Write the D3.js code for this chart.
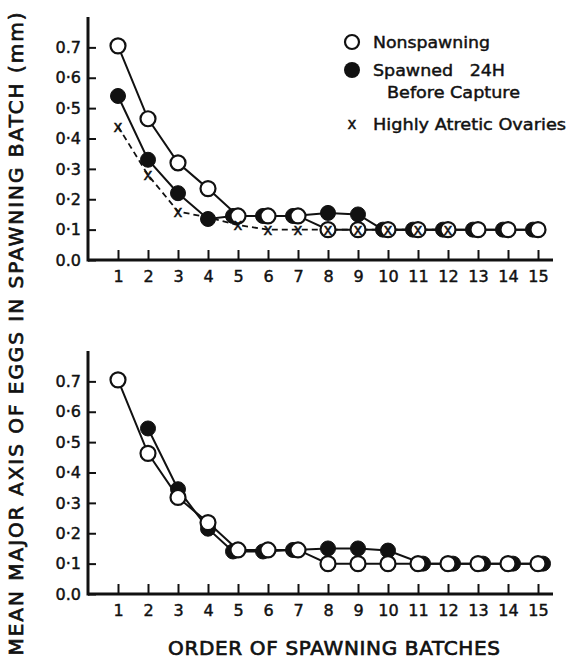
<!DOCTYPE html>
<html>
<head>
<meta charset="utf-8">
<script src="https://cdn.jsdelivr.net/npm/d3@7"></script>
<style>
  body { margin: 0; background: #fff; }
  svg { display: block; }
  text { font-family: "DejaVu Sans", sans-serif; fill: #111; stroke: #111; stroke-width: 0.45px; }
</style>
</head>
<body>
<svg id="chart" width="568" height="660"></svg>
<script>
// ---- data ----
const batches = [1,2,3,4,5,6,7,8,9,10,11,12,13,14,15];
const yTickValues = [0.0,0.1,0.2,0.3,0.4,0.5,0.6,0.7];
const yTickLabels = ["0.0","0·1","0·2","0·3","0·4","0·5","0·6","0.7"];

// upper panel
const topNonspawning = [0.705,0.465,0.32,0.235,0.145,0.145,0.145,0.10,0.10,0.10,0.10,0.10,0.10,0.10,0.10];
const topSpawned     = [0.54,0.33,0.22,0.135,0.145,0.145,0.145,0.155,0.15,0.10,0.10,0.10,0.10,0.10,0.10];
const topAtretic     = [0.44,0.28,0.16,0.14,0.115,0.10,0.10,0.10,0.10,0.10,0.10,0.10,null,null,null];

// lower panel
const botNonspawning = [0.705,0.463,0.318,0.235,0.145,0.145,0.145,0.10,0.10,0.10,0.10,0.10,0.10,0.10,0.10];
const botSpawned     = [null,0.545,0.345,0.215,0.14,0.14,0.145,0.15,0.15,0.143,0.10,0.10,0.10,0.10,0.10];

const legendLabels = ["Nonspawning", "Spawned   24H", "Before Capture", "Highly Atretic Ovaries"];
const xTitle = "ORDER OF SPAWNING BATCHES";
const yTitle = "MEAN MAJOR AXIS OF EGGS IN SPAWNING BATCH (mm)";

// ---- drawing ----
const svg = d3.select("#chart");
const x = d3.scaleLinear().domain([0, 15.5]).range([88, 553]);
const R = 7.5;

function panel(y0, y08, series) {
  const y = d3.scaleLinear().domain([0, 0.8]).range([y0, y08]);
  const g = svg.append("g");

  // axes
  const yAxis = d3.axisLeft(y).tickValues(yTickValues)
    .tickFormat((d, i) => yTickLabels[i]).tickSizeInner(-8).tickSizeOuter(0).tickPadding(7);
  const ya = g.append("g").attr("transform", `translate(${x(0)},0)`).call(yAxis);
  ya.select(".domain").remove();
  ya.selectAll("line").attr("stroke", "#111").attr("stroke-width", 2);
  ya.selectAll("text").style("font-size", "16px").style("font-family", "DejaVu Sans, sans-serif");
  g.append("line").attr("x1", x(0)).attr("x2", x(0)).attr("y1", y(0) + 1.5).attr("y2", y(0.8))
    .attr("stroke", "#111").attr("stroke-width", 3);

  const xAxis = d3.axisBottom(x).tickValues(batches).tickFormat(d3.format("d"))
    .tickSizeInner(-10).tickSizeOuter(0).tickPadding(11);
  const xa = g.append("g").attr("transform", `translate(0,${y(0)})`).call(xAxis);
  xa.select(".domain").remove();
  xa.selectAll("line").attr("stroke", "#111").attr("stroke-width", 2);
  xa.selectAll("text").style("font-size", "16px").style("font-family", "DejaVu Sans, sans-serif");
  g.append("line").attr("x1", x(0)).attr("x2", x(15.5)).attr("y1", y(0)).attr("y2", y(0))
    .attr("stroke", "#111").attr("stroke-width", 3);

  const line = d3.line().defined(d => d.v != null).x(d => x(d.b) + d.dx).y(d => y(d.v));
  const toPts = (arr, shiftFn) => arr.map((v, i) => ({ b: batches[i], v, dx: shiftFn ? shiftFn(i) : 0 }));

  // atretic (dashed, x marks)
  if (series.atretic) {
    const pts = toPts(series.atretic);
    g.append("path").datum(pts).attr("d", line).attr("fill", "none")
      .attr("stroke", "#111").attr("stroke-width", 1.8).attr("stroke-dasharray", "6,4");
  }

  // spawned (filled) - slightly shifted where it coincides with nonspawning
  const shiftFn = i => {
    const a = series.spawned[i], b = series.nonspawning[i];
    if (a == null || Math.abs(a - b) > 0.012) return 0;
    if (i < 4) return 0;
    return series.shift(i);
  };
  const sp = toPts(series.spawned, shiftFn);
  g.append("path").datum(sp).attr("d", line).attr("fill", "none")
    .attr("stroke", "#111").attr("stroke-width", 2);
  g.selectAll(".sp").data(sp.filter(d => d.v != null)).join("circle")
    .attr("cx", d => x(d.b) + d.dx).attr("cy", d => y(d.v)).attr("r", R)
    .attr("fill", "#111").attr("stroke", "#111").attr("stroke-width", 1);

  // nonspawning (open)
  const ns = toPts(series.nonspawning);
  g.append("path").datum(ns).attr("d", line).attr("fill", "none")
    .attr("stroke", "#111").attr("stroke-width", 2);
  g.selectAll(".ns").data(ns).join("circle")
    .attr("cx", d => x(d.b)).attr("cy", d => y(d.v)).attr("r", R)
    .attr("fill", "#fff").attr("stroke", "#111").attr("stroke-width", 2.2);

  if (series.atretic) {
    const pts = toPts(series.atretic).filter(d => d.v != null);
    g.selectAll(".xm").data(pts).join("text")
      .attr("x", d => x(d.b)).attr("y", d => y(d.v)).attr("dy", "0.35em")
      .attr("text-anchor", "middle").style("font-size", "15px").text("x");
  }
}

panel(260, 17, { nonspawning: topNonspawning, spawned: topSpawned, atretic: topAtretic, shift: i => -5 });
panel(594, 351, { nonspawning: botNonspawning, spawned: botSpawned, atretic: null, shift: i => (i >= 9 ? 5 : -5) });

// legend
const lg = svg.append("g");
lg.append("circle").attr("cx", 352).attr("cy", 42).attr("r", 7).attr("fill", "#fff").attr("stroke", "#111").attr("stroke-width", 2.2);
lg.append("circle").attr("cx", 352).attr("cy", 70).attr("r", 8).attr("fill", "#111");
lg.append("text").attr("x", 352).attr("y", 124).attr("dy", "0.35em").attr("text-anchor", "middle").style("font-size", "15px").text("x");
const legPos = [[373, 42, 117], [373, 70, 132], [387, 92, 133], [373, 124, 193]];
legendLabels.forEach((t, i) => {
  lg.append("text").attr("x", legPos[i][0]).attr("y", legPos[i][1]).attr("dy", "0.35em")
    .attr("textLength", legPos[i][2]).attr("lengthAdjust", "spacingAndGlyphs")
    .style("white-space", "pre")
    .style("font-size", "16px").text(t);
});

// axis titles
svg.append("text").attr("x", 334).attr("y", 648).attr("dy", "0.35em").attr("text-anchor", "middle")
  .attr("textLength", 332).attr("lengthAdjust", "spacing").style("font-size", "20px")
  .style("stroke-width", "0.7px").text(xTitle);
svg.append("text").attr("transform", "translate(16,334) rotate(-90)").attr("dy", "0.35em")
  .attr("text-anchor", "middle").attr("textLength", 643).attr("lengthAdjust", "spacing")
  .style("font-size", "20px").style("stroke-width", "0.7px").text(yTitle);
</script>
</body>
</html>
